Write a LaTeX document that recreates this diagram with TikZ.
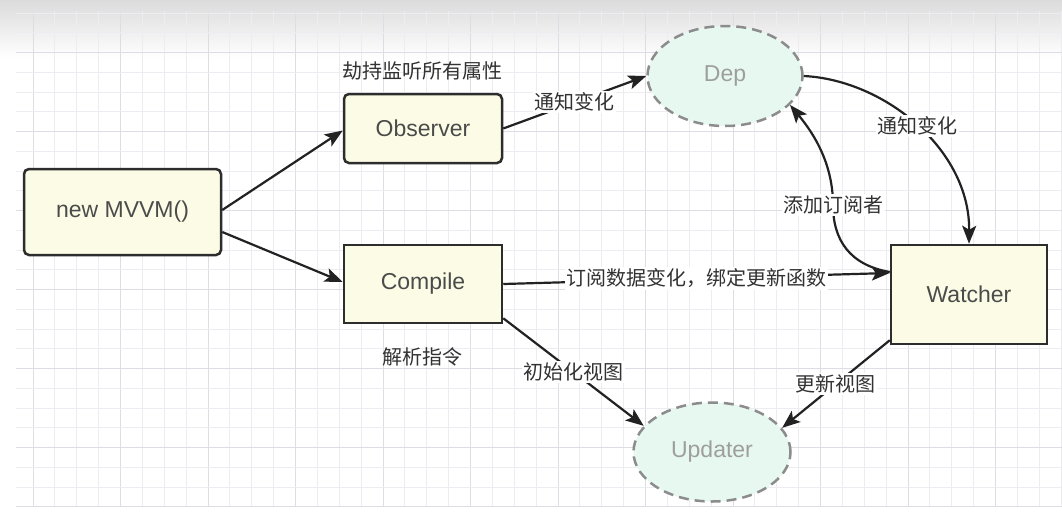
\documentclass[tikz,border=0pt]{standalone}
\usepackage{fontspec}
\setmainfont{Liberation Sans}
\newfontfamily\cjk{Noto Sans CJK SC}
\usetikzlibrary{arrows.meta,shapes.geometric}
\definecolor{boxfill}{RGB}{252,252,230}
\definecolor{ellfill}{RGB}{230,248,240}
\definecolor{gridmin}{RGB}{236,236,241}
\definecolor{gridmaj}{RGB}{221,221,228}
\definecolor{edgecol}{RGB}{34,34,34}
\definecolor{boxline}{RGB}{45,45,45}
\definecolor{boxtext}{RGB}{75,75,75}
\definecolor{elltext}{RGB}{158,158,158}
\definecolor{elline}{RGB}{140,140,140}
\definecolor{lbltext}{RGB}{50,50,50}
\begin{document}
\begin{tikzpicture}[x=1pt,y=-1pt,
  box/.style={draw=boxline, line width=2.5pt, fill=boxfill, text=boxtext,
    font=\fontsize{23}{27}\selectfont, inner sep=0pt},
  rbox/.style={box, rounded corners=5pt},
  ell/.style={ellipse, draw=elline, dash pattern=on 10pt off 6pt, line width=2.5pt,
    fill=ellfill, text=elltext, font=\fontsize{23}{27}\selectfont, inner sep=0pt},
  arr/.style={draw=edgecol, line width=2.2pt, -{Stealth[length=18pt,width=14pt,inset=4pt]}},
  lbl/.style={font=\cjk\fontsize{20}{24}\selectfont, text=lbltext, inner sep=1.5pt},
  elbl/.style={lbl, fill=white}
]
\useasboundingbox (0,0) rectangle (1062,517);
\fill[white] (0,0) rectangle (1062,517);
\shade[top color=black!14, bottom color=white] (0,0) rectangle (1062,58);
% grid
\foreach \k in {0,...,47}{
  \pgfmathtruncatemacro\m{mod(\k,4)}
  \ifnum\m=0 \def\gc{gridmaj}\else\def\gc{gridmin}\fi
  \draw[\gc, line width=1pt] ({33+21.875*\k},11) -- ({33+21.875*\k},507);
}
\foreach \j in {0,...,25}{
  \pgfmathtruncatemacro\m{mod(\j+2,4)}
  \ifnum\m=0 \def\gc{gridmaj}\else\def\gc{gridmin}\fi
  \ifnum\j=25 \def\gc{gridmaj}\fi
  \draw[\gc, line width=1pt] (16,{13+19.75*\j}) -- (1062,{13+19.75*\j});
}
% nodes
\node[rbox, minimum width=197pt, minimum height=86pt] (mvvm) at (122.5,212) {new MVVM()};
\node[rbox, minimum width=158pt, minimum height=69pt] (observer) at (423,128.5) {Observer};
\node[box, minimum width=158pt, minimum height=78pt] (compile) at (423,284) {Compile};
\node[box, minimum width=156pt, minimum height=99pt] (watcher) at (969,294.5) {Watcher};
\node[ell, minimum width=155pt, minimum height=100pt] (dep) at (725,76) {Dep};
\node[ell, minimum width=157pt, minimum height=99pt] (updater) at (712,452) {Updater};
% free labels
\node[lbl] (obslbl) at (422,71) {劫持监听所有属性};
\node[lbl] (complbl) at (422,357) {解析指令};
% edges
\draw[arr] ([yshift=2pt]mvvm.east) -- ([yshift=-2pt]observer.west);
\draw[arr] ([yshift=-20pt]mvvm.east) -- ([yshift=2pt]compile.west);
\draw[arr] (observer.east) -- node[elbl]{通知变化} (dep.west);
\draw[arr] (dep.east) .. controls +(81,4) and +(1,-94) .. node[elbl, pos=0.5]{通知变化} (watcher.north);
\draw[arr] (compile.east) -- node[elbl]{订阅数据变化，绑定更新函数} ([yshift=21.5pt]watcher.west);
\coordinate (addpt) at (833,205);
\draw[arr] ([yshift=22.5pt]watcher.west) .. controls +(-40,-7) and +(0,35) .. (addpt)
  .. controls +(0,-40) and +(25,30) .. (dep.-24);
\node[elbl] (addlbl) at (addpt) {添加订阅者};
\draw[arr] ([yshift=6pt]compile.south east) -- node[elbl]{初始化视图} (updater.159);
\draw[arr] ([yshift=5pt]watcher.south west) -- node[elbl]{更新视图} (updater.19);
\end{tikzpicture}
\end{document}
